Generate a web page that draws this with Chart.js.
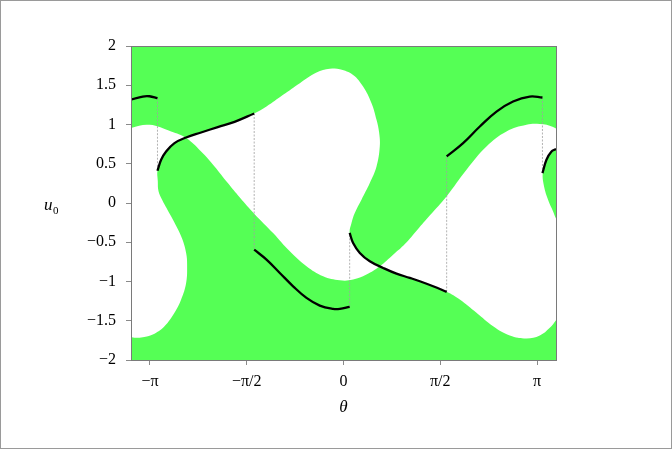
<!DOCTYPE html>
<html><head><meta charset="utf-8">
<script src="https://cdn.jsdelivr.net/npm/chart.js@4/dist/chart.umd.min.js"></script>
<style>html,body{margin:0;padding:0;background:#fff}</style>
</head><body>
<canvas id="c" width="672" height="449"></canvas>
<script>
// ---- data (theta, u0) ----
// boundary curve C1 (single valued)
const c1Theta = [-3.70,-3.448,-3.149,-2.799,-2.555,-2.312,-2.094,-1.878,-1.683,-1.443,-1.143,-0.872,-0.601,-0.331,-0.060,0.156,0.373,0.589,0.805,1.000,1.200,1.400,1.672,1.997,2.321,2.646,2.971,3.187,3.403,3.70];
const c1U     = [0.87,0.954,0.996,0.911,0.827,0.656,0.466,0.254,0.070,-0.142,-0.382,-0.616,-0.807,-0.934,-0.985,-0.976,-0.912,-0.807,-0.660,-0.520,-0.340,-0.160,0.084,0.424,0.720,0.911,0.996,1.005,0.967,0.82];
// boundary curve C2 (folded, multi valued), listed along the curve from left to right
const c2Theta = [-3.70,-3.437,-3.258,-3.096,-2.906,-2.744,-2.636,-2.555,-2.539,-2.555,-2.636,-2.799,-2.945,-3.003,-3.015,-3.02,-2.961,-2.880,-2.744,-2.555,-2.312,-2.041,-1.769,-1.45,-1.250,-0.981,-0.709,-0.438,-0.222,-0.060,0.156,0.318,0.455,0.536,0.578,0.589,0.536,0.427,0.292,0.183,0.130,0.10,0.156,0.265,0.427,0.643,0.860,1.076,1.239,1.455,1.675,1.888,2.159,2.429,2.700,2.971,3.187,3.349,3.458,3.539,3.647,3.728,3.744,3.728,3.647,3.530,3.446,3.403,3.321,3.256,3.235,3.295,3.377,3.45,3.539,3.728];
const c2U     = [-1.64,-1.710,-1.710,-1.676,-1.570,-1.399,-1.230,-1.018,-0.807,-0.636,-0.425,-0.170,0.042,0.150,0.280,0.411,0.551,0.656,0.763,0.835,0.898,0.967,1.034,1.140,1.229,1.378,1.527,1.662,1.709,1.705,1.632,1.483,1.272,1.060,0.900,0.720,0.466,0.254,0.042,-0.127,-0.254,-0.382,-0.509,-0.636,-0.743,-0.827,-0.900,-0.954,-0.997,-1.061,-1.132,-1.230,-1.399,-1.570,-1.688,-1.726,-1.688,-1.590,-1.485,-1.399,-1.230,-1.018,-0.807,-0.636,-0.425,-0.300,-0.191,-0.107,0.042,0.211,0.380,0.551,0.656,0.690,0.763,0.835];
// thick black solution branches
const branchA = {t:[-3.80,-3.53,-3.26,-3.15,-3.02], u:[1.165,1.293,1.356,1.360,1.335]};
const branchB = {t:[-3.02,-2.961,-2.880,-2.744,-2.555,-2.312,-2.041,-1.769,-1.45], u:[0.411,0.551,0.656,0.763,0.835,0.898,0.967,1.034,1.140]};
const branchC = {t:[-1.45,-1.250,-1.034,-0.818,-0.601,-0.385,-0.169,-0.060,0.10], u:[-0.594,-0.721,-0.891,-1.061,-1.209,-1.307,-1.349,-1.349,-1.322]};
const branchD = {t:[0.10,0.156,0.265,0.427,0.643,0.860,1.076,1.239,1.455,1.675], u:[-0.382,-0.509,-0.636,-0.743,-0.827,-0.900,-0.954,-0.997,-1.061,-1.132]};
const branchE = {t:[1.675,1.942,2.213,2.484,2.753,3.024,3.23], u:[0.593,0.763,0.975,1.165,1.293,1.356,1.344]};
const branchF = {t:[3.23,3.295,3.377,3.45,3.539,3.728], u:[0.380,0.551,0.656,0.690,0.763,0.835]};
// dotted jumps
const jumpTheta = [-3.02,-1.45,0.10,1.675,3.23];
const jumpFrom  = [1.335,1.140,-1.322,-1.132,1.344];
const jumpTo    = [0.411,-0.594,-0.382,0.593,0.380];
// axes
const X_MIN = -3.45, X_MAX = 3.45, Y_MIN = -2, Y_MAX = 2;
const xTickValues = [-Math.PI, -Math.PI/2, 0, Math.PI/2, Math.PI];
const xTickLabels = ['\u2212\u03c0','\u2212\u03c0/2','0','\u03c0/2','\u03c0'];
const yTickStep = 0.5;

const GREEN = 'rgb(85,255,85)';
const FONT = '"Liberation Serif", "DejaVu Serif", serif';

const pts = (t,u) => t.map((x,i)=>({x:x, y:u[i]}));
const c1 = pts(c1Theta,c1U), c2 = pts(c2Theta,c2U);
const offL = X_MIN - 0.5, offR = X_MAX + 0.5, offB = Y_MIN - 0.6;
const region = [{x:offL,y:offB},{x:offL,y:c1[0].y}].concat(c1, c2.slice().reverse(),
  [{x:offL,y:c2[0].y},{x:offL,y:offB},{x:offR,y:offB}]);

const datasets = [{
  data: region, fill: 'shape', backgroundColor: '#ffffff', borderColor: 'rgba(0,0,0,0)',
  borderWidth: 0, pointRadius: 0, order: 10, tension: 0.4, capBezierPoints: false
}];
jumpTheta.forEach((t,i)=>datasets.push({
  data: [{x:t,y:jumpFrom[i]},{x:t,y:jumpTo[i]}], borderColor:'#a0a0a0', borderWidth:0.8,
  borderDash:[2,1.5], pointRadius:0, fill:false, order:5
}));
[branchA,branchB,branchC,branchD,branchE,branchF].forEach(b=>datasets.push({
  data: pts(b.t,b.u), borderColor:'#000', borderWidth:2.3, pointRadius:0, fill:false,
  tension:0.4, capBezierPoints:false, order:1
}));

const fmt = v => (v < 0 ? '\u2212' : '') + String(Math.abs(Math.round(v*10)/10));

const deco = {
  id:'deco',
  beforeDatasetsDraw(chart){
    const {ctx, chartArea:a} = chart;
    ctx.save(); ctx.fillStyle = GREEN;
    ctx.fillRect(a.left, a.top, a.right-a.left, a.bottom-a.top); ctx.restore();
  },
  afterDatasetsDraw(chart){
    const {ctx, chartArea:a} = chart;
    ctx.save(); ctx.strokeStyle = '#7a7a7a'; ctx.lineWidth = 1;
    ctx.strokeRect(a.left+0.5, a.top+0.5, a.right-a.left, a.bottom-a.top);
    ctx.restore();
  },
  afterDraw(chart){
    const ctx = chart.ctx;
    ctx.save();
    ctx.strokeStyle = '#9a9a9a'; ctx.lineWidth = 1;
    ctx.strokeRect(0.5, 0.5, chart.width-1, chart.height-1);
    ctx.fillStyle = '#000'; ctx.textBaseline = 'alphabetic'; ctx.textAlign = 'left';
    ctx.font = 'italic 17px ' + FONT; ctx.fillText('u', 44, 210);
    ctx.font = '11px ' + FONT; ctx.fillText('0', 53, 214);
    ctx.restore();
  }
};

Chart.defaults.font.family = FONT;
Chart.defaults.font.size = 16;
Chart.defaults.color = '#000';

new Chart(document.getElementById('c'), {
  type: 'line',
  data: { datasets },
  options: {
    responsive: false, animation: false, devicePixelRatio: 1,
    layout: { padding: {left:0, right:116, top:46, bottom:0} },
    plugins: { legend:{display:false}, tooltip:{enabled:false}, title:{display:false} },
    scales: {
      x: {
        type:'linear', min:X_MIN, max:X_MAX,
        afterBuildTicks: s => { s.ticks = xTickValues.map(v=>({value:v})); },
        afterFit: s => { s.height = 89; },
        ticks: { autoSkip:false, maxRotation:0, padding:7, callback:(v,i)=>xTickLabels[i] },
        grid: { drawOnChartArea:false, drawTicks:true, tickLength:5, color:'#8a8a8a' },
        border: { display:false },
        title: { display:true, text:'\u03b8', font:{size:17, style:'italic', family:FONT}, padding:{top:0,bottom:31} }
      },
      y: {
        type:'linear', min:Y_MIN, max:Y_MAX,
        afterFit: s => { s.width = 131; },
        ticks: { stepSize:yTickStep, padding:10, callback: v => fmt(v) },
        grid: { drawOnChartArea:false, drawTicks:true, tickLength:5, color:'#8a8a8a' },
        border: { display:false }
      }
    }
  },
  plugins: [deco]
});
</script>
</body></html>
